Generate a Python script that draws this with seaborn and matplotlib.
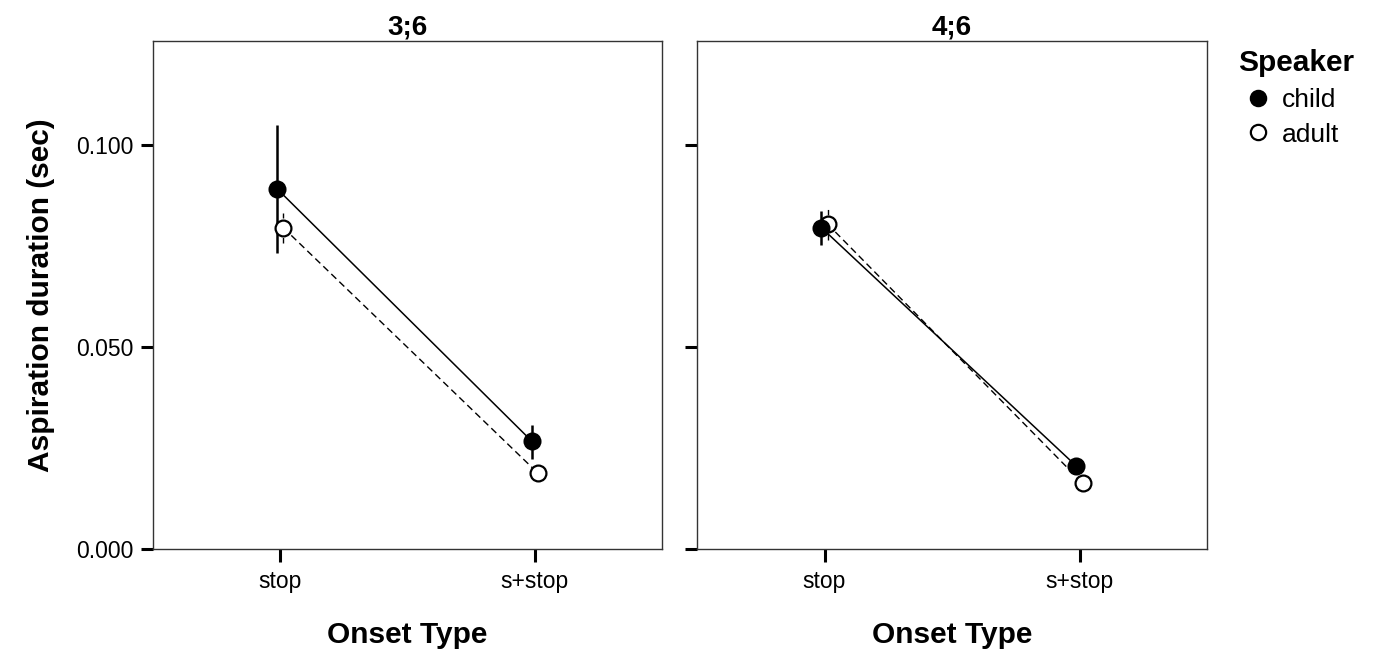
import seaborn as sns
import pandas as pd
import numpy as np
import matplotlib.pyplot as plt
from matplotlib.lines import Line2D

# Values
ages = ['3;6', '4;6']
onsets = ['stop', 's+stop']
speakers = ['child', 'adult']

child_mean = {'3;6': [0.0891, 0.0267], '4;6': [0.0795, 0.0205]}
child_lo = {'3;6': [0.0733, 0.0223], '4;6': [0.0752, 0.0190]}
child_hi = {'3;6': [0.1050, 0.0307], '4;6': [0.0837, 0.0220]}
adult_mean = {'3;6': [0.0795, 0.0188], '4;6': [0.0804, 0.0163]}
adult_lo = {'3;6': [0.0757, 0.0180], '4;6': [0.0765, 0.0155]}
adult_hi = {'3;6': [0.0832, 0.0196], '4;6': [0.0843, 0.0171]}

rows = []
for age in ages:
    for i, o in enumerate(onsets):
        rows.append(dict(age=age, onset=o, speaker='child', mean=child_mean[age][i],
                         lo=child_lo[age][i], hi=child_hi[age][i]))
        rows.append(dict(age=age, onset=o, speaker='adult', mean=adult_mean[age][i],
                         lo=adult_lo[age][i], hi=adult_hi[age][i]))
df = pd.DataFrame(rows)
dodge = {'child': -0.012, 'adult': 0.012}
df['x'] = df['onset'].map({o: i for i, o in enumerate(onsets)}) + df['speaker'].map(dodge)

sns.set_theme(style='white', rc={'text.color': 'black', 'axes.labelcolor': 'black',
                                 'xtick.color': 'black', 'ytick.color': 'black'})
plt.rcParams['font.family'] = ['Liberation Sans', 'DejaVu Sans']

fig = plt.figure(figsize=(13.77, 6.61), dpi=100)
ax1 = fig.add_axes([153 / 1377, 1 - 549 / 661, 509 / 1377, 508 / 661])
ax2 = fig.add_axes([697 / 1377, 1 - 549 / 661, 510 / 1377, 508 / 661])

styles = {'child': dict(ls='-', face='black', lw=1.1, elw=1.8),
          'adult': dict(ls=(0, (5, 3)), face='white', lw=1.0, elw=1.0)}

for ax, age in zip([ax1, ax2], ages):
    sub = df[df['age'] == age]
    for sp in ['adult', 'child']:
        d = sub[sub['speaker'] == sp]
        st = styles[sp]
        sns.lineplot(data=d, x='x', y='mean', ax=ax, color='black', lw=st['lw'],
                     linestyle=st['ls'], legend=False, zorder=2)
        ax.vlines(d['x'], d['lo'], d['hi'], color='black', lw=st['elw'],
                  linestyles='-' if sp == 'child' else (0, (4, 2)), zorder=2)
        sns.scatterplot(data=d, x='x', y='mean', ax=ax, s=130, color=st['face'],
                        edgecolor='black', linewidth=1.6, legend=False, zorder=3)
    ax.set_xlim(-0.5, 1.5)
    ax.set_ylim(0, 0.1257)
    ax.set_xticks([0, 1])
    ax.set_xticklabels(onsets, fontsize=16.5)
    ax.set_yticks([0, 0.05, 0.1])
    ax.set_title(age, fontsize=20, fontweight='bold', pad=5, color='black')
    ax.set_xlabel('Onset Type', fontsize=21.5, fontweight='bold', labelpad=20)
    ax.tick_params(axis='both', direction='out', length=9, width=2.2, color='black',
                   bottom=True, left=True, pad=5)
    ax.tick_params(axis='x', pad=6)
    for s in ax.spines.values():
        s.set_color('#333333')
        s.set_linewidth(1.0)

ax1.set_yticklabels(['0.000', '0.050', '0.100'], fontsize=16.5)
ax1.set_ylabel('Aspiration duration (sec)', fontsize=21.5, fontweight='bold', labelpad=15)
ax2.set_yticklabels([])
ax2.set_ylabel('')

handles = [Line2D([], [], marker='o', ls='', markersize=11, markerfacecolor='black',
                  markeredgecolor='black', markeredgewidth=1.6),
           Line2D([], [], marker='o', ls='', markersize=11, markerfacecolor='white',
                  markeredgecolor='black', markeredgewidth=1.6)]
leg = fig.legend(handles, speakers, title='Speaker', loc='upper left',
                 bbox_to_anchor=(1220 / 1377, 1 - 31 / 661), frameon=False,
                 fontsize=19, title_fontproperties={'weight': 'bold', 'size': 21.5},
                 handletextpad=0.15, handlelength=1.5, labelspacing=0.4, borderpad=0.2)
leg._legend_box.align = 'left'

fig.savefig('out.png', dpi=100)
